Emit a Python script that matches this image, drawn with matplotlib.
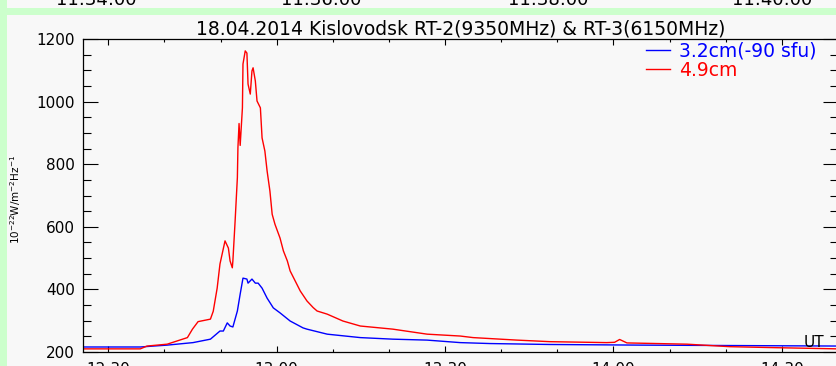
import matplotlib
matplotlib.use("Agg")
import matplotlib.pyplot as plt
from matplotlib.ticker import MultipleLocator, FuncFormatter
from matplotlib.patches import Rectangle

# time in minutes after 12:00 UT, flux in sfu
red_t = [25.5, 35.7, 36.9, 40.5, 44.1, 45.0, 46.0, 48.2, 48.7, 49.4, 49.9, 50.8,
         51.4, 51.7, 52.1, 52.2, 52.6, 53.0, 53.1, 53.3, 53.5, 53.9, 54.0, 54.4,
         54.7, 54.9, 55.3, 55.6, 55.8, 56.2, 56.5, 57.1, 57.4, 57.9, 58.3, 58.8,
         59.2, 59.7, 60.6, 61.2, 61.9, 62.4, 63.3, 64.2, 65.4, 66.5, 67.2, 69.0,
         71.8, 74.9, 80.7, 86.8, 92.7, 95.0, 102.8, 108.7, 118.8, 120.2, 121.1,
         122.4, 133.1, 140.7, 148.4, 160.0]
red_v = [210, 210, 219, 225, 246, 273, 297, 305, 330, 404, 481, 555,
         532, 491, 469, 491, 619, 757, 853, 930, 860, 980, 1120, 1162,
         1155, 1056, 1024, 1098, 1108, 1066, 1002, 980, 884, 842, 778, 714,
         640, 608, 564, 523, 491, 459, 427, 395, 363, 342, 331, 321,
         299, 283, 273, 257, 251, 246, 238, 233, 230, 231, 240,
         229, 225, 217, 214, 210]

blue_t = [25.5, 35.7, 40.5, 45.1, 48.2, 49.9, 50.5, 51.2, 51.7, 52.2, 53.0, 53.5,
          54.0, 54.7, 54.9, 55.6, 56.2, 56.7, 57.4, 58.3, 59.4, 60.6, 62.4,
          64.7, 65.4, 69.0, 74.9, 80.7, 86.8, 92.7, 98.0, 108.7, 124.7, 160.0]
blue_v = [216, 216, 222, 230, 241, 267, 267, 293, 283, 280, 331, 385,
          436, 433, 420, 433, 420, 420, 404, 372, 341, 325, 299,
          277, 273, 257, 246, 241, 238, 230, 227, 224, 222, 219]

top_labels = ["11:34:00", "11:36:00", "11:38:00", "11:40:00"]
top_label_x = [96, 321, 548, 772]

W, H = 836, 366
fig = plt.figure(figsize=(W / 100, H / 100), dpi=100)
fig.patch.set_facecolor("#ccffcc")
fig.patches.append(Rectangle((7 / W, 0), 829 / W, 351 / H, transform=fig.transFigure,
                             facecolor="#f8f8f8", edgecolor="none", zorder=-10))
fig.patches.append(Rectangle((7 / W, 1 - 8 / H), 829 / W, 8 / H, transform=fig.transFigure,
                             facecolor="#f8f8f8", edgecolor="none", zorder=-10))
for lab, px in zip(top_labels, top_label_x):
    fig.text(px / W, 1 - 5 / H, lab, ha="center", va="baseline", fontsize=13, color="black")

ax = fig.add_axes([83 / W, (H - 352) / H, 755 / W, 313 / H])
ax.set_facecolor("#f8f8f8")

ax.plot(blue_t, blue_v, color="blue", lw=1.0, label="3.2cm(-90 sfu)")
ax.plot(red_t, red_v, color="red", lw=1.0, label="4.9cm")

ax.set_xlim(25.5, 160)
ax.set_ylim(200, 1200)
ax.xaxis.set_major_locator(MultipleLocator(30))
ax.xaxis.set_minor_locator(MultipleLocator(10))
ax.yaxis.set_major_locator(MultipleLocator(200))
ax.yaxis.set_minor_locator(MultipleLocator(50))
ax.xaxis.set_major_formatter(FuncFormatter(lambda m, p: "%d:%02d" % (12 + int(m) // 60, int(m) % 60)))

ax.tick_params(axis="y", which="major", direction="in", length=10.8, width=0.8,
               left=True, right=True, labelsize=11, pad=6)
ax.tick_params(axis="y", which="minor", direction="in", length=5.8, width=0.8, left=True, right=True)
ax.tick_params(axis="x", which="major", direction="in", length=4.3, width=0.8,
               top=True, bottom=True, labelsize=11, pad=7)
ax.tick_params(axis="x", which="minor", direction="in", length=2.2, width=0.8, top=True, bottom=True)
for s in ax.spines.values():
    s.set_linewidth(0.9)
ax.spines["right"].set_visible(False)

ax.set_title("18.04.2014 Kislovodsk RT-2(9350MHz) & RT-3(6150MHz)", fontsize=13.5, pad=3)
fig.text(16 / W, 0.5 - 16 / H, r"10$^{-22}$W/m$^{-2}$Hz$^{-1}$", rotation=90,
         ha="center", va="center", fontsize=7.5)
ax.text(0.955, 0.03, "UT", transform=ax.transAxes, fontsize=11, ha="left", va="center")

leg = ax.legend(loc="upper right", bbox_to_anchor=(0.982, 1.015), frameon=False, handlelength=1.3,
                handletextpad=0.5, labelspacing=0.0, fontsize=13.5, labelcolor="linecolor",
                borderaxespad=0.0)

fig.savefig("out.png", dpi=100, facecolor=fig.get_facecolor())
